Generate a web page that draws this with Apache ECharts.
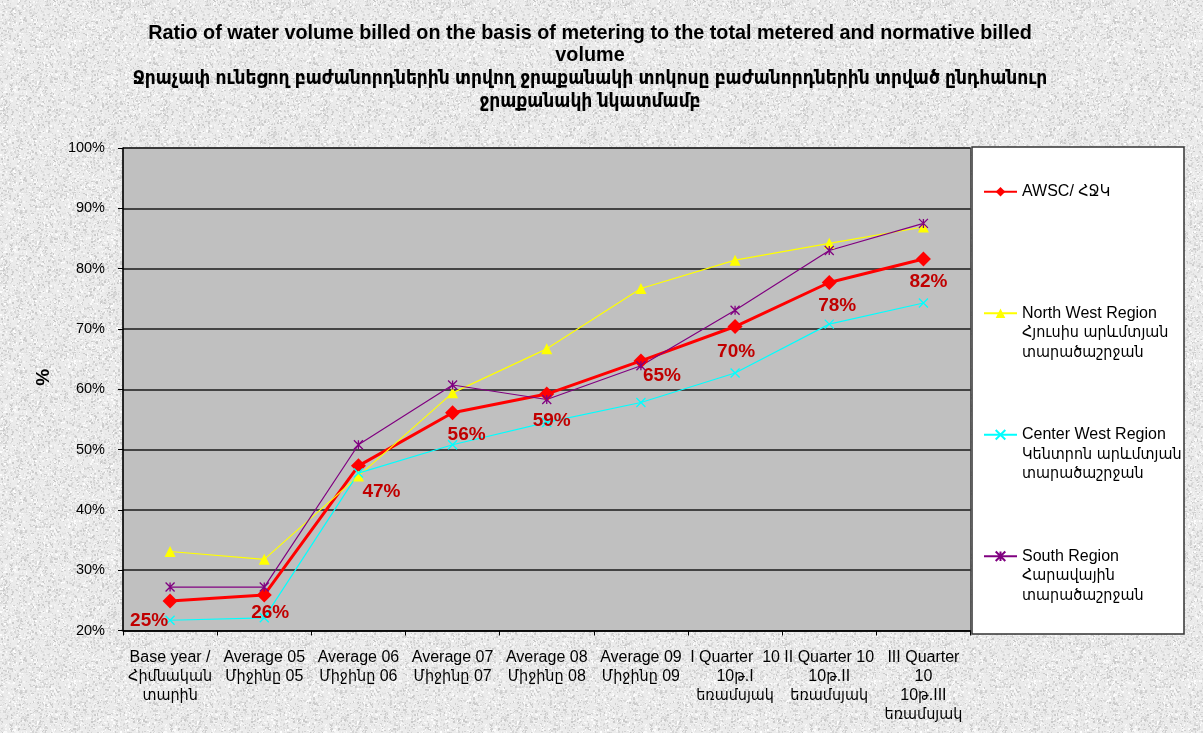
<!DOCTYPE html>
<html>
<head>
<meta charset="utf-8">
<title>Metered water volume ratio</title>
<script src="https://cdn.jsdelivr.net/npm/echarts@6/dist/echarts.min.js"></script>
<style>
  html, body { margin: 0; padding: 0; }
  #chart { width: 1203px; height: 733px; }
</style>
</head>
<body>
<div id="chart"></div>
<script>
// categories (x axis)
const categories = [
  'Base year /\nՀիմնական\nտարին',
  'Average 05\nՄիջինը 05',
  'Average 06\nՄիջինը 06',
  'Average 07\nՄիջինը 07',
  'Average 08\nՄիջինը 08',
  'Average 09\nՄիջինը 09',
  'I Quarter  10\n10թ.I\nեռամսյակ',
  'II Quarter 10\n10թ.II\nեռամսյակ',
  'III Quarter\n10\n10թ.III\nեռամսյակ'
]

// series names
const seriesNames = [
  'AWSC/ ՀՋԿ',
  'North West Region\nՀյուսիս արևմտյան\nտարածաշրջան',
  'Center West Region\nԿենտրոն արևմտյան\nտարածաշրջան',
  'South Region\nՀարավային\nտարածաշրջան'
]

// values, %
const awsc = [24.9, 25.9, 47.3, 56.1, 59.2, 64.7, 70.4, 77.7, 81.6]
const northWest = [33.1, 31.8, 45.6, 59.4, 66.7, 76.7, 81.4, 84.2, 86.9]
const centerWest = [21.7, 22.1, 46.1, 50.8, 54.5, 57.8, 62.7, 70.8, 74.3]
const south = [27.2, 27.2, 50.8, 60.7, 58.3, 63.9, 73.1, 83.0, 87.5]

// y axis
const yMin = 20
const yMax = 100
const yStep = 10

// Armenian glyphs fall through to DejaVu (condensed is closer to the original width)
const FONT = "'Liberation Sans', Arial, 'DejaVu Sans Condensed', 'DejaVu Sans', sans-serif"

// where the AWSC percent labels sit relative to their point
const labelOffsets = [[-21, 20], [6, 18], [23, 26], [14, 22], [5, 27], [21, 15], [1, 25], [8, 23], [5, 23]]

// granite-like page background
function makeTexture() {
  const c = document.createElement('canvas')
  c.width = 160
  c.height = 160
  const ctx = c.getContext('2d')
  ctx.fillStyle = '#ebebeb'
  ctx.fillRect(0, 0, 160, 160)
  let seed = 12345
  const rnd = () => {
    seed = (seed * 1103515245 + 12345) % 2147483648
    return seed / 2147483648
  }
  for (let i = 0; i < 8000; i++) {
    const g = Math.round(200 + rnd() * 55)
    ctx.fillStyle = 'rgb(' + g + ',' + g + ',' + g + ')'
    ctx.fillRect(Math.floor(rnd() * 160), Math.floor(rnd() * 160), 1 + Math.floor(rnd() * 2), 1 + Math.floor(rnd() * 2))
  }
  return c.toDataURL()
}
const el = document.getElementById('chart')
el.style.backgroundImage = 'url(' + makeTexture() + ')'

const chart = echarts.init(el, null, { renderer: 'canvas' })

const crossPath = 'path://M0,0L10,10M10,0L0,10'
const starPath = 'path://M0,0L10,10M10,0L0,10M5,0L5,10'

chart.setOption({
  backgroundColor: 'transparent',
  animation: false,
  textStyle: { fontFamily: FONT },
  title: {
    text: 'Ratio of water volume billed on the basis of metering to the total metered and normative billed\nvolume',
    subtext: 'Ջրաչափ ունեցող բաժանորդներին տրվող ջրաքանակի տոկոսը բաժանորդներին տրված ընդհանուր\nջրաքանակի նկատմամբ',
    left: 590,
    top: 22,
    textAlign: 'center',
    padding: 0,
    itemGap: 1,
    textStyle: {
      fontFamily: FONT,
      fontSize: 19.8,
      fontWeight: 'bold',
      color: '#000',
      lineHeight: 22.5
    },
    subtextStyle: {
      fontFamily: FONT,
      fontSize: 19,
      fontWeight: 'bold',
      color: '#000',
      lineHeight: 22.5
    }
  },
  graphic: [{
    type: 'rect',
    shape: { x: 972, y: 147, width: 212, height: 487 },
    style: { fill: '#fff', stroke: '#333', lineWidth: 1.5 },
    z: -1
  }],
  legend: {
    orient: 'vertical',
    left: 983,
    top: 143,
    padding: 0,
    itemGap: 24,
    itemWidth: 33,
    itemHeight: 12,
    data: seriesNames,
    formatter: name => {
      const lines = name.split('\n')
      while (lines.length < 3) lines.push(' ')
      return ' \n \n' + lines.join('\n')
    },
    textStyle: {
      fontFamily: FONT,
      fontSize: 16,
      lineHeight: 19.5,
      color: '#000'
    }
  },
  grid: {
    left: 123,
    right: 232.5,
    top: 148,
    bottom: 102.5,
    show: true,
    backgroundColor: '#c0c0c0',
    borderColor: '#555',
    borderWidth: 1
  },
  xAxis: {
    type: 'category',
    data: categories,
    boundaryGap: true,
    axisLine: { lineStyle: { color: '#000', width: 1.5 } },
    axisTick: { show: true, length: 5, lineStyle: { color: '#000' } },
    axisLabel: {
      interval: 0,
      margin: 18,
      fontFamily: FONT,
      fontSize: 16,
      lineHeight: 19,
      color: '#000'
    }
  },
  yAxis: {
    type: 'value',
    min: yMin,
    max: yMax,
    interval: yStep,
    name: '%',
    nameLocation: 'middle',
    nameGap: 70,
    nameRotate: 90,
    nameTextStyle: {
      fontFamily: FONT,
      fontSize: 19,
      fontWeight: 'bold',
      color: '#000',
      padding: [0, 0, 0, 24]
    },
    axisLine: { show: true, lineStyle: { color: '#000', width: 1.5 } },
    axisTick: { show: true, length: 5, lineStyle: { color: '#000' } },
    axisLabel: {
      margin: 18,
      formatter: '{value}%',
      fontFamily: FONT,
      fontSize: 14.5,
      color: '#000'
    },
    splitLine: { lineStyle: { color: '#1a1a1a', width: 1.5 } }
  },
  series: [
    {
      name: seriesNames[0],
      type: 'line',
      data: awsc.map((v, i) => ({ value: v, label: { offset: labelOffsets[i] } })),
      symbol: 'diamond',
      symbolSize: 15,
      lineStyle: { color: '#ff0000', width: 3 },
      itemStyle: { color: '#ff0000' },
      z: 3,
      label: {
        show: true,
        position: 'inside',
        formatter: p => Math.round(p.value) + '%',
        fontFamily: FONT,
        fontSize: 19,
        fontWeight: 'bold',
        color: '#c00000'
      }
    },
    {
      name: seriesNames[1],
      type: 'line',
      data: northWest,
      symbol: 'triangle',
      symbolSize: 11,
      lineStyle: { color: '#ffff00', width: 1.2 },
      itemStyle: { color: '#ffff00' }
    },
    {
      name: seriesNames[2],
      type: 'line',
      data: centerWest,
      symbol: crossPath,
      symbolSize: 9,
      lineStyle: { color: '#00ffff', width: 1.2 },
      itemStyle: { color: 'rgba(0,0,0,0)', borderColor: '#00ffff', borderWidth: 1.3 }
    },
    {
      name: seriesNames[3],
      type: 'line',
      data: south,
      symbol: starPath,
      symbolSize: 9,
      lineStyle: { color: '#800080', width: 1.2 },
      itemStyle: { color: 'rgba(0,0,0,0)', borderColor: '#800080', borderWidth: 1.3 }
    }
  ]
})
</script>
</body>
</html>
